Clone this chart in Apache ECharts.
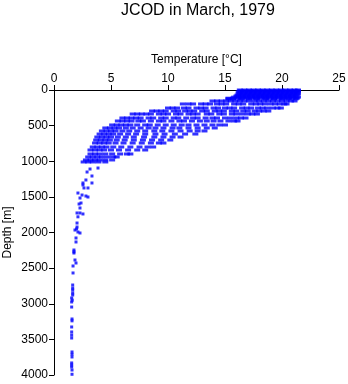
<!DOCTYPE html>
<html>
<head>
<meta charset="utf-8">
<script src="https://cdn.jsdelivr.net/npm/echarts@6/dist/echarts.min.js"></script>
<style>
  html, body { margin: 0; padding: 0; background: #fff; }
  #chart { width: 348px; height: 384px; }
</style>
</head>
<body>
<div id="chart"></div>
<script>
// x axis ticks (temperature) and y axis ticks (depth)
const tempTicks = [0, 5, 10, 15, 20, 25];
const depthTicks = [0, 500, 1000, 1500, 2000, 2500, 3000, 3500, 4000];

// upper ocean: depth of each sampled level [m]
const levelDepths = [
    0, 12, 25, 40, 55, 70, 85, 100, 115, 125,
    154, 196, 253, 295, 337, 393, 435, 491, 533, 575,
    618, 660, 702, 744, 800, 842, 898, 940, 982, 1010
];

// temperatures [°C] read along each level
const levelTemps = [
    [16.3, 16.7, 17.1, 17.5, 17.9, 18.3, 18.7, 19.1, 19.5, 19.9, 20.3, 20.7, 21.1, 21.4],
    [16.4, 16.8, 17.2, 17.6, 18.0, 18.4, 18.8, 19.2, 19.6, 20.0, 20.4, 20.8, 21.2, 21.4],
    [16.2, 16.6, 17.0, 17.4, 17.8, 18.2, 18.6, 19.0, 19.4, 19.8, 20.2, 20.6, 21.0, 21.4],
    [16.3, 16.7, 17.1, 17.5, 17.9, 18.3, 18.7, 19.1, 19.5, 19.9, 20.3, 20.7, 21.1, 21.3],
    [16.2, 16.6, 17.0, 17.4, 17.8, 18.2, 18.6, 19.0, 19.4, 19.8, 20.2, 20.6, 21.0, 21.4],
    [16.1, 16.5, 16.9, 17.3, 17.7, 18.1, 18.5, 18.9, 19.3, 19.7, 20.1, 20.5, 20.9, 21.3],
    [16.0, 16.4, 16.8, 17.2, 17.6, 18.0, 18.4, 18.8, 19.2, 19.6, 20.0, 20.4, 20.8, 21.2],
    [15.8, 16.2, 16.6, 17.0, 17.4, 17.8, 18.2, 18.6, 19.0, 19.4, 19.8, 20.2, 20.6, 21.0, 21.4],
    [15.3, 15.7, 16.1, 16.5, 16.9, 17.3, 17.7, 18.1, 18.5, 18.9, 19.3, 19.7, 20.1, 20.5, 20.9, 21.3],
    [15.3, 15.7, 16.4, 17.1, 17.8, 18.6, 19.3, 20.0, 20.6, 21.2],
    [13.9, 14.3, 14.7, 15.1, 15.5, 15.9, 16.3, 16.7, 17.1, 17.6, 18.0, 18.4, 18.8, 19.2, 19.6, 20.0, 20.4, 20.8, 21.1],
    [11.3, 11.8, 12.2, 12.9, 13.3, 13.7, 14.3, 14.7, 15.1, 15.8, 16.2, 16.6, 17.3, 17.7, 18.1, 18.5, 19.0, 19.4, 19.8, 20.2, 20.4],
    [10.0, 10.4, 10.8, 11.4, 11.8, 12.5, 12.9, 13.3, 14.0, 14.4, 15.0, 15.4, 15.8, 16.5, 16.9, 17.3, 17.9, 18.3, 18.7, 19.2, 19.6, 19.9],
    [8.6, 9.0, 9.4, 9.8, 10.5, 10.9, 11.5, 11.9, 12.3, 13.0, 13.4, 14.1, 14.5, 14.9, 15.6, 16.0, 16.6, 17.0, 17.6, 18.0, 18.4, 18.8],
    [6.9, 7.3, 7.7, 8.1, 8.5, 9.2, 9.6, 10.0, 10.7, 11.1, 11.8, 12.2, 12.6, 13.4, 13.8, 14.5, 14.9, 15.6, 16.0, 16.5, 17.0, 17.4, 17.8],
    [6.0, 6.4, 6.8, 7.2, 7.6, 8.3, 8.7, 9.4, 9.8, 10.5, 10.9, 11.6, 12.2, 12.6, 13.3, 13.9, 14.3, 15.0, 15.5, 16.0, 16.4, 16.8],
    [5.6, 6.0, 6.4, 6.8, 7.4, 7.8, 8.5, 9.2, 9.6, 10.3, 11.0, 11.4, 12.1, 12.8, 13.4, 14.0, 14.6, 15.3, 15.8, 16.1],
    [5.1, 5.5, 5.9, 6.3, 6.7, 7.3, 8.0, 8.4, 9.1, 9.8, 10.5, 11.2, 11.8, 12.5, 13.2, 13.9, 14.5, 15.0],
    [4.5, 4.9, 5.3, 5.7, 6.3, 6.9, 7.6, 8.3, 8.9, 9.6, 10.4, 11.0, 11.8, 12.6, 13.4, 14.1],
    [4.2, 4.6, 5.0, 5.4, 6.0, 6.6, 7.3, 8.0, 8.8, 9.5, 10.3, 11.1, 11.9, 12.6, 13.2],
    [4.0, 4.4, 4.8, 5.2, 5.8, 6.5, 7.2, 8.0, 8.9, 9.7, 10.6, 11.5, 12.4],
    [3.8, 4.2, 4.6, 5.0, 5.6, 6.3, 7.0, 7.9, 8.8, 9.6, 10.4, 11.1],
    [3.7, 4.1, 4.5, 4.9, 5.5, 6.2, 7.0, 7.8, 8.6, 9.4, 10.2],
    [3.6, 4.0, 4.4, 4.8, 5.4, 6.1, 6.9, 7.7, 8.5, 9.2, 9.6],
    [3.4, 3.8, 4.2, 4.6, 5.2, 5.9, 6.7, 7.5, 8.2, 8.7],
    [3.2, 3.6, 4.0, 4.4, 5.0, 5.7, 6.5, 7.3, 8.0],
    [3.2, 3.6, 4.0, 4.5, 5.1, 5.8, 6.4, 6.7],
    [3.0, 3.4, 3.8, 4.2, 4.7, 5.2, 5.5],
    [2.8, 3.2, 3.6, 4.0, 4.5, 5.1],
    [2.6, 3.0, 3.4, 3.9, 4.5]
];

// deep water: scattered individual samples
const deepTemps = [
    3.86, 3.16, 2.90, 3.33, 2.80, 2.54, 3.33, 2.63, 2.54, 2.98,
    2.10, 2.46, 2.80, 2.98, 2.28, 2.37, 2.28, 2.02, 2.28, 2.54,
    2.02, 2.02, 1.84, 2.10, 2.28, 1.93, 1.93, 1.75, 1.75, 1.84,
    1.93, 1.67, 1.67, 1.64, 1.64, 1.64, 1.64, 1.55, 1.55, 1.55,
    1.58, 1.55, 1.55, 1.55, 1.58, 1.58, 1.55, 1.55, 1.58, 1.58,
    2.20, 2.10, 1.98, 1.75, 1.64, 1.60, 1.58, 1.55, 1.58, 1.55
];
const deepDepths = [
    1095, 1109, 1151, 1207, 1263, 1305, 1305, 1375, 1333, 1375,
    1446, 1474, 1488, 1502, 1516, 1586, 1656, 1726, 1726, 1740,
    1867, 1923, 1965, 1993, 2007, 2077, 2133, 2246, 2288, 2386,
    2428, 2470, 2568, 2737, 2807, 2849, 2877, 2919, 2975, 3046,
    3214, 3326, 3396, 3481, 3677, 3747, 3831, 3888, 3930, 3990,
    1600, 1780, 1950, 2270, 2780, 2950, 3240, 3440, 3710, 3860
];

const upperPoints = [];
levelDepths.forEach((d, i) => {
    levelTemps[i].forEach(t => upperPoints.push([t, d]));
});
const deepPoints = deepTemps.map((t, i) => [t, deepDepths[i]]);

const chart = echarts.init(document.getElementById('chart'));

const font = 'Liberation Sans, Arial, Helvetica, sans-serif';

const option = {
    backgroundColor: '#ffffff',
    animation: false,
    title: {
        text: 'JCOD in March, 1979',
        left: 193,
        textAlign: 'center',
        top: -2,
        textStyle: { fontFamily: font, fontSize: 16, fontWeight: 'normal', color: '#000' }
    },
    grid: { left: 54, right: 9, top: 90, bottom: 9, containLabel: false, outerBoundsMode: 'none' },
    xAxis: {
        type: 'value',
        position: 'top',
        min: tempTicks[0],
        max: tempTicks[tempTicks.length - 1],
        interval: 5,
        name: 'Temperature [°C]',
        nameLocation: 'middle',
        nameGap: 24,
        nameMoveOverlap: false,
        nameTextStyle: { fontFamily: font, fontSize: 12, color: '#000' },
        axisLine: { show: true, onZero: false, lineStyle: { color: '#000', width: 1 } },
        axisTick: { show: true, length: 5, lineStyle: { color: '#000' } },
        axisLabel: { fontFamily: font, fontSize: 12, color: '#000', margin: 5, formatter: v => String(v) },
        splitLine: { show: false }
    },
    yAxis: {
        type: 'value',
        inverse: true,
        min: depthTicks[0],
        max: depthTicks[depthTicks.length - 1],
        interval: 500,
        name: 'Depth [m]',
        nameLocation: 'middle',
        nameGap: 40,
        nameMoveOverlap: false,
        nameTextStyle: { fontFamily: font, fontSize: 12, color: '#000' },
        axisLine: { show: true, onZero: false, lineStyle: { color: '#000', width: 1 } },
        axisTick: { show: true, length: 5, lineStyle: { color: '#000' } },
        axisLabel: { fontFamily: font, fontSize: 12, color: '#000', margin: 6, formatter: v => String(v) },
        splitLine: { show: false }
    },
    series: [{
        type: 'scatter',
        data: upperPoints,
        symbol: 'rect',
        symbolSize: [6, 3],
        itemStyle: { color: '#0000ff' },
        silent: true
    }, {
        type: 'scatter',
        data: deepPoints,
        symbol: 'rect',
        symbolSize: [3, 3],
        itemStyle: { color: '#0000ff' },
        silent: true
    }]
};

chart.setOption(option);
</script>
</body>
</html>
